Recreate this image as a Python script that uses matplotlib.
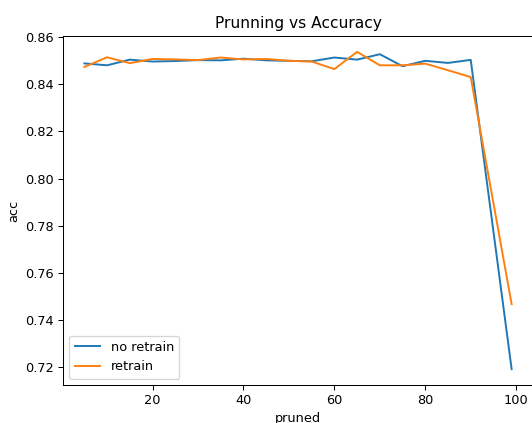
import matplotlib
matplotlib.use('Agg')
import matplotlib.pyplot as plt

PRUNED = [5, 10, 15, 20, 25, 30, 35, 40, 45, 50, 55, 60, 65, 70, 75, 80, 85, 90, 99]
NO_RETRAIN = [0.8489, 0.8481, 0.8505, 0.8497, 0.8499, 0.8503, 0.8502, 0.8509, 0.8502,
              0.8500, 0.8498, 0.8514, 0.8505, 0.8528, 0.8477, 0.8500, 0.8491, 0.8504,
              0.7191]
RETRAIN = [0.8474, 0.8515, 0.8490, 0.8508, 0.8506, 0.8503, 0.8514, 0.8506, 0.8508,
           0.8500, 0.8497, 0.8465, 0.8538, 0.8481, 0.8481, 0.8488, 0.8460, 0.8431,
           0.7467]

DPI = 93.0


def main():
    fig = plt.figure(figsize=(532/DPI, 423/DPI), dpi=DPI)
    ax = fig.add_subplot(111)
    # axes runs past the right and bottom edge, like the cropped original
    fig.subplots_adjust(left=63/532., right=533/532., bottom=(423-385)/423., top=(423-36)/423.)
    ax.plot(PRUNED, NO_RETRAIN, label='no retrain')
    ax.plot(PRUNED, RETRAIN, label='retrain')
    ax.set_title('Prunning vs Accuracy')
    ax.set_xlabel('pruned')
    ax.set_ylabel('acc')
    ax.legend(loc='lower left')
    plt.savefig('out.png', dpi=DPI)
    plt.close('all')


if __name__ == '__main__':
    main()
